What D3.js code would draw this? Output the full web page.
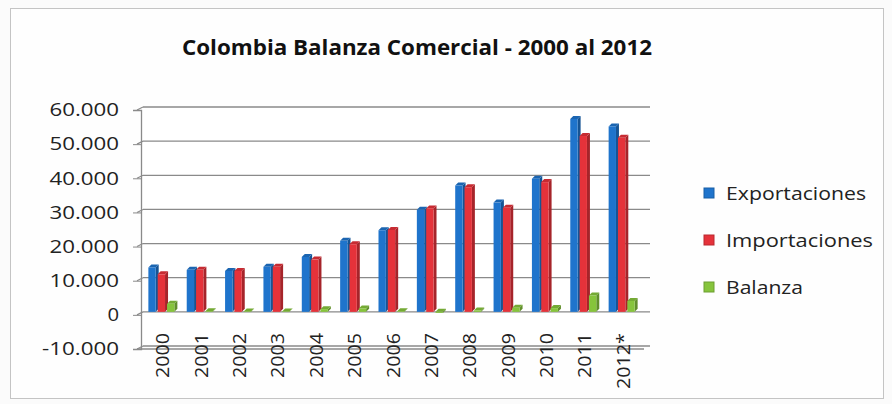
<!DOCTYPE html>
<html><head><meta charset="utf-8">
<script src="https://cdn.jsdelivr.net/npm/d3@7"></script>
<style>body{margin:0;background:#fff}svg{display:block}</style>
</head><body>
<svg id="c" width="892" height="404"></svg>
<script>
const categories = ["2000","2001","2002","2003","2004","2005","2006","2007","2008","2009","2010","2011","2012*"];
const exportaciones = [13000,12300,12000,13200,16100,20800,23900,29900,37000,32000,39000,56500,54300];
const importaciones = [11000,12300,12000,13200,15300,19800,24000,30300,36500,30500,38000,51500,51000];
const balanza = [2400,200,100,100,800,1000,200,-300,400,1200,1100,4800,3200];
const seriesNames = ["Exportaciones","Importaciones","Balanza"];
const seriesColors = ["#1f74cc","#e5323a","#86c43c"];
const yTicks = [-10000,0,10000,20000,30000,40000,50000,60000];
const title = "Colombia Balanza Comercial - 2000 al 2012";

const svg = d3.select("#c");
const FONT = "'Open Sans',sans-serif";
svg.append("rect").attr("x",0).attr("y",0).attr("width",892).attr("height",404).attr("fill","#fbfbfb");
svg.append("rect").attr("x",10.5).attr("y",8.5).attr("width",873).attr("height",390).attr("fill","#fefefe").attr("stroke","#c4c4c4");

const y = d3.scaleLinear().domain([-10000,60000]).range([346,107]);
const x0 = d3.scaleBand().domain(categories).range([143,642]).paddingInner(0.27).paddingOuter(0.14);
const x1 = d3.scaleBand().domain(seriesNames).range([0,x0.bandwidth()]);

const g = svg.append("g");
g.append("rect").attr("x",143).attr("y",y(60000)).attr("width",650-143).attr("height",y(-10000)-y(60000)).attr("fill","#fff");
g.selectAll("line.grid").data(yTicks).join("line")
  .attr("x1",143).attr("x2",650).attr("y1",d=>y(d)).attr("y2",d=>y(d))
  .attr("stroke","#8a8a8a").attr("stroke-width",1.3);
g.selectAll("line.diag").data(yTicks).join("line")
  .attr("x1",137).attr("x2",143).attr("y1",d=>y(d)+3).attr("y2",d=>y(d))
  .attr("stroke","#8a8a8a").attr("stroke-width",1.2);

const fmt = d=>d3.format(",")(d).replace(/,/g,".").replace("\u2212","-");
const yAxis = d3.axisLeft(y).tickValues(yTicks).tickSize(8).tickPadding(14).tickFormat(fmt);
const ya = svg.append("g").attr("transform","translate(141,3)").call(yAxis);
ya.select(".domain").attr("stroke","#8a8a8a").attr("stroke-width",1.3);
ya.selectAll(".tick line").attr("stroke","#8a8a8a");
ya.selectAll("text").attr("font-family",FONT).attr("font-size",18).attr("fill","#222")
  .attr("textLength",d=>{const s=fmt(d);return s.startsWith("-")?77:s.length*11.6;}).attr("lengthAdjust","spacingAndGlyphs");

const data = categories.map((c,i)=>({c, v:[exportaciones[i],importaciones[i],balanza[i]]}));
const bw = x1.bandwidth();
const dx = 3, dy = 3;
data.forEach(d=>{
  seriesNames.forEach((s,j)=>{
    const v = d.v[j];
    const bx = x0(d.c)+x1(s);
    const top = y(Math.max(0,v)), bot = y(Math.min(0,v));
    const col = d3.color(seriesColors[j]);
    const w = bw - dx + 1;
    svg.append("path").attr("d",`M${bx+w},${top} L${bx+w+dx},${top-dy} L${bx+w+dx},${bot-dy} L${bx+w},${bot} Z`).attr("fill",col.darker(0.9));
    svg.append("path").attr("d",`M${bx},${top} L${bx+dx},${top-dy} L${bx+w+dx},${top-dy} L${bx+w},${top} Z`).attr("fill",col.darker(0.4));
    svg.append("rect").attr("x",bx).attr("y",top).attr("width",w).attr("height",Math.max(0.5,bot-top)).attr("fill",col);
  });
});

svg.append("line").attr("x1",137).attr("x2",644).attr("y1",y(-10000)+3).attr("y2",y(-10000)+3).attr("stroke","#8a8a8a").attr("stroke-width",1.3);
svg.append("g").selectAll("text").data(categories).join("text")
  .attr("transform",d=>`translate(${x0(d)+x0.bandwidth()/2+7},333) rotate(-90)`)
  .attr("text-anchor","end").attr("font-family",FONT).attr("font-size",18).attr("fill","#222")
  .attr("textLength",d=>d.length===4?45:56).attr("lengthAdjust","spacingAndGlyphs")
  .text(d=>d);

svg.append("text").attr("x",417).attr("y",55).attr("text-anchor","middle")
  .attr("font-family",FONT).attr("font-weight","bold").attr("font-size",21).attr("fill","#111")
  .attr("textLength",470).attr("lengthAdjust","spacingAndGlyphs").text(title);

const legendLen = [140,147,77];
const lg = svg.append("g");
seriesNames.forEach((s,i)=>{
  const ly = 193 + i*47;
  lg.append("rect").attr("x",704).attr("y",ly-5).attr("width",10).attr("height",10).attr("fill",seriesColors[i]).attr("stroke",d3.color(seriesColors[i]).darker(0.6));
  lg.append("text").attr("x",726).attr("y",ly+6.5).attr("font-family",FONT).attr("font-size",18).attr("fill","#222")
    .attr("textLength",legendLen[i]).attr("lengthAdjust","spacingAndGlyphs").text(s);
});
</script>
</body></html>
